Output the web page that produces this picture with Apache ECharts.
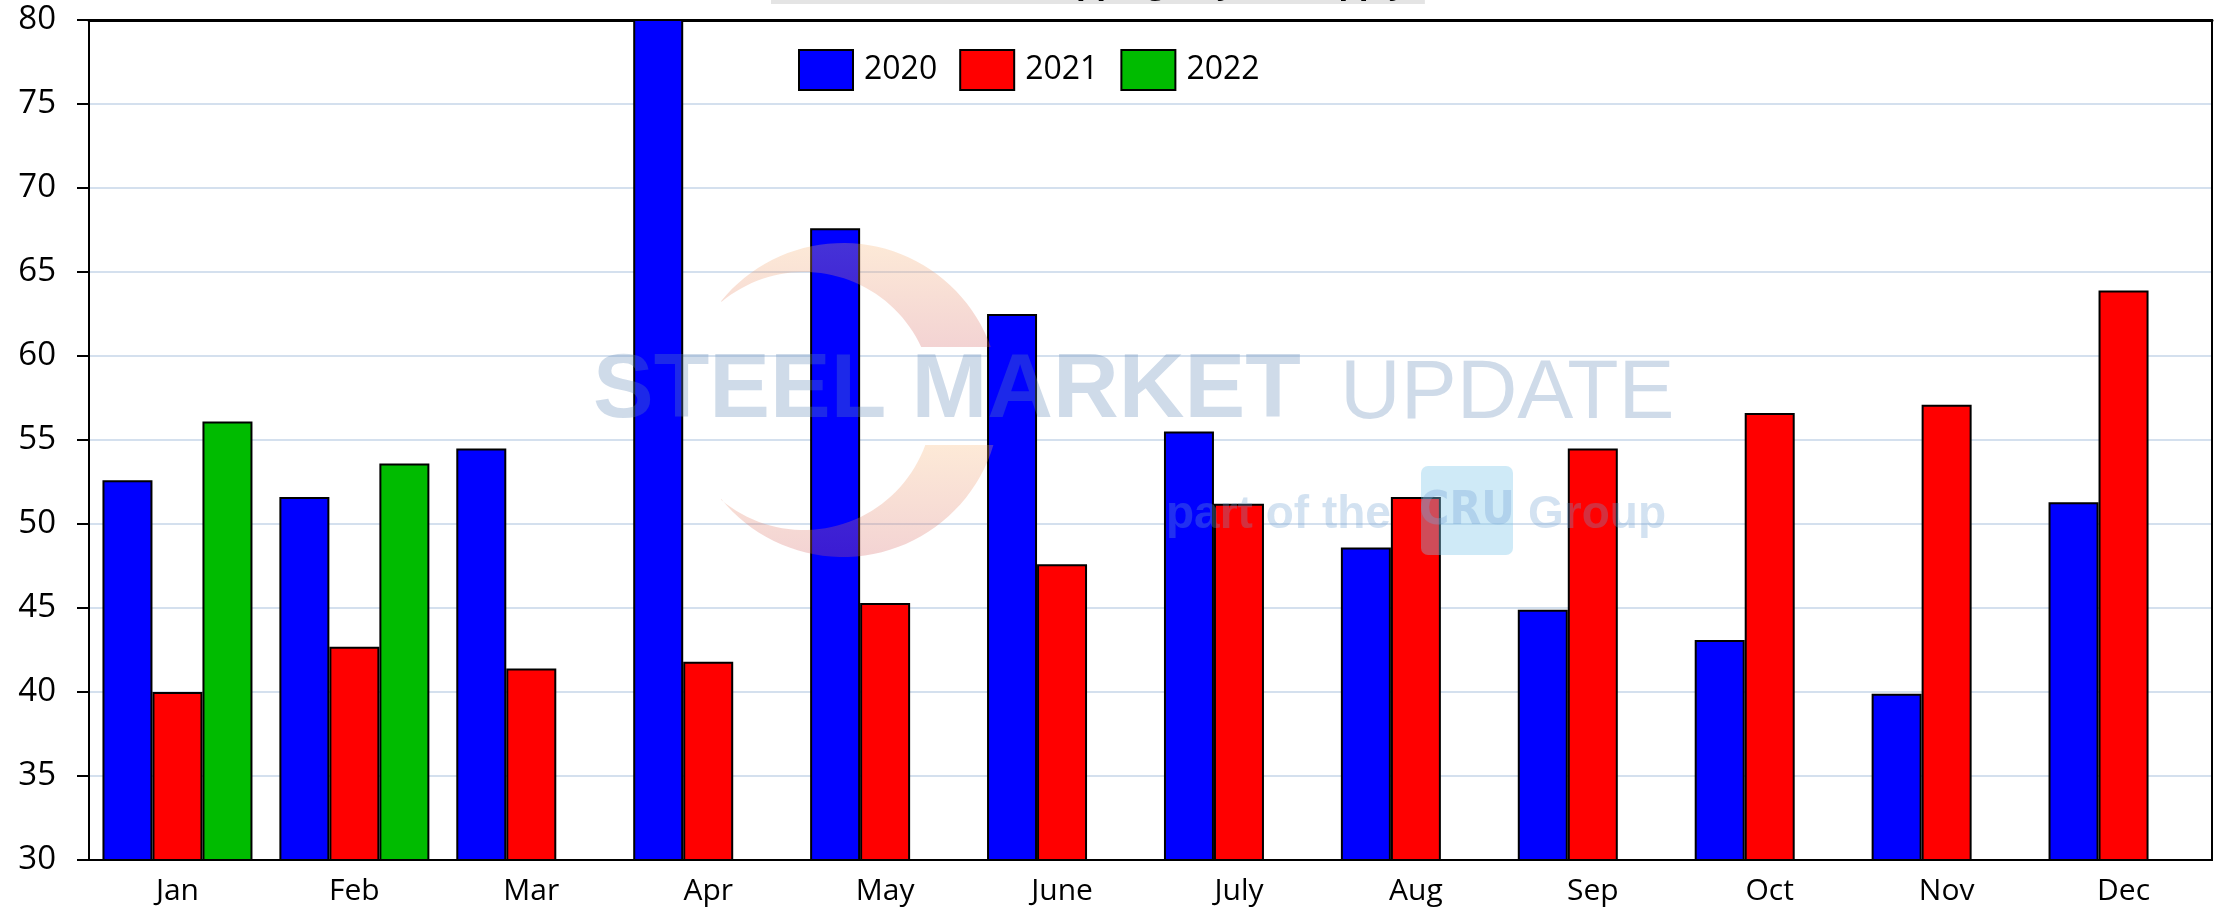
<!DOCTYPE html>
<html>
<head>
<meta charset="utf-8">
<script src="https://cdn.jsdelivr.net/npm/echarts@6/dist/echarts.min.js"></script>
<style>
html,body{margin:0;padding:0;background:#fff;}
#chart{width:2221px;height:909px;}
</style>
</head>
<body>
<div id="chart"></div>
<script>
const categories = ['Jan','Feb','Mar','Apr','May','June','July','Aug','Sep','Oct','Nov','Dec'];
const seriesNames = ['2020','2021','2022'];
const values2020 = [52.6, 51.6, 54.5, 82.0, 67.6, 62.5, 55.5, 48.6, 44.9, 43.1, 39.9, 51.3];
const values2021 = [40.0, 42.7, 41.4, 41.8, 45.3, 47.6, 51.2, 51.6, 54.5, 56.6, 57.1, 63.9];
const values2022 = [56.1, 53.6, null, null, null, null, null, null, null, null, null, null];
const seriesColors = ['#0000ff', '#ff0000', '#00bb00'];
const yMin = 30, yMax = 80, yStep = 5;
const titleText = 'Service Center Shipping Days of Supply';

const chart = echarts.init(document.getElementById('chart'), null, {renderer: 'canvas'});
const FONT = '"Open Sans", "Noto Sans", sans-serif';

function barSeries(name, data, color) {
  return {
    name: name,
    type: 'bar',
    data: data,
    barWidth: 50,
    barGap: '0%',
    itemStyle: {color: color, borderColor: '#000', borderWidth: 2},
    emphasis: {disabled: true},
    z: 2
  };
}

// watermark crescent pieces (decoration)
function arcPts(cx, cy, r, a0, a1, n) {
  const pts = [];
  for (let i = 0; i <= n; i++) {
    const a = (a0 + (a1 - a0) * i / n) * Math.PI / 180;
    pts.push([cx + r * Math.cos(a), cy + r * Math.sin(a)]);
  }
  return pts;
}
const crescentTop = arcPts(843, 400, 157, -141, -19.7, 40).concat(arcPts(804, 401, 129, -24.7, -129.7, 40));
const crescentBottom = arcPts(843, 400, 157, 16.7, 141, 40).concat(arcPts(804, 401, 129, 130, 19.9, 40));

const wmArc = new echarts.graphic.LinearGradient(0, 0, 0, 1, [
  {offset: 0, color: 'rgb(248,178,112)'}, {offset: 1, color: 'rgb(212,98,98)'}
]);

chart.setOption({
  backgroundColor: '#ffffff',
  animation: false,
  title: {
    text: titleText,
    left: 771,
    top: -36,
    backgroundColor: '#e4e4e4',
    padding: [4, 18, 4, 18],
    textStyle: {fontFamily: FONT, fontSize: 32, fontWeight: 'bold', color: '#000', lineHeight: 32}
  },
  legend: {
    data: seriesNames,
    left: 793,
    top: 44,
    itemWidth: 54,
    itemHeight: 40,
    itemGap: 22,
    icon: 'rect',
    itemStyle: {borderColor: '#000', borderWidth: 2},
    textStyle: {fontFamily: FONT, fontSize: 32, color: '#000', padding: [0, 0, 0, 6]}
  },
  grid: {
    left: 89, right: 9, top: 20, bottom: 49,
    containLabel: false,
    outerBoundsMode: 'none',
    show: true,
    borderColor: '#000',
    borderWidth: 2,
    backgroundColor: 'transparent'
  },
  xAxis: [{
    type: 'category',
    data: categories,
    axisLine: {show: true, lineStyle: {color: '#000', width: 2}},
    axisTick: {show: false},
    axisLabel: {fontFamily: FONT, fontSize: 30, color: '#000', margin: 16},
    splitLine: {show: false}
  }, {
    type: 'category',
    position: 'top',
    data: categories,
    axisLine: {show: true, lineStyle: {color: '#000', width: 3}},
    axisTick: {show: false},
    axisLabel: {show: false},
    splitLine: {show: false}
  }],
  yAxis: [{
    type: 'value',
    min: yMin, max: yMax, interval: yStep,
    axisLine: {show: true, lineStyle: {color: '#000', width: 2}},
    axisTick: {show: true, length: 12, lineStyle: {color: '#000', width: 2}},
    axisLabel: {fontFamily: FONT, fontSize: 33, color: '#000', margin: 33},
    splitLine: {show: true, lineStyle: {color: '#c6d6e8', width: 1.5}}
  }, {
    type: 'value',
    position: 'right',
    min: yMin, max: yMax, interval: yStep,
    axisLine: {show: true, lineStyle: {color: '#000', width: 2}},
    axisTick: {show: false},
    axisLabel: {show: false},
    splitLine: {show: false}
  }],
  series: [
    barSeries(seriesNames[0], values2020, seriesColors[0]),
    barSeries(seriesNames[1], values2021, seriesColors[1]),
    barSeries(seriesNames[2], values2022, seriesColors[2])
  ],
  graphic: [
    {type: 'polygon', silent: true, z: 100, shape: {points: crescentTop}, style: {fill: wmArc, opacity: 0.28}},
    {type: 'polygon', silent: true, z: 100, shape: {points: crescentBottom}, style: {fill: wmArc, opacity: 0.28}},
    {type: 'text', silent: true, z: 100, x: 593, y: 437,
     style: {text: 'STEEL MARKET', font: 'bold 91px "Liberation Sans", Arial, sans-serif', fill: 'rgb(95,135,182)', opacity: 0.3, verticalAlign: 'bottom'}},
    {type: 'text', silent: true, z: 100, x: 1340, y: 437,
     style: {text: 'UPDATE', font: '84px "Liberation Sans", Arial, sans-serif', fill: 'rgb(95,135,182)', opacity: 0.3, verticalAlign: 'bottom'}},
    {type: 'text', silent: true, z: 100, x: 1166, y: 538,
     style: {text: 'part of the', font: 'bold 46px "Liberation Sans", Arial, sans-serif', fill: 'rgb(110,160,210)', opacity: 0.3, verticalAlign: 'bottom'}},
    {type: 'rect', silent: true, z: 100, shape: {x: 1421, y: 466, width: 92, height: 89, r: 7},
     style: {fill: 'rgb(130,200,235)', opacity: 0.38}},
    {type: 'text', silent: true, z: 101, x: 1467, y: 512,
     style: {text: 'CRU', font: 'bold 46px "DejaVu Sans Condensed", "Liberation Sans Narrow", sans-serif', fill: 'rgb(120,165,215)', opacity: 0.35, align: 'center', verticalAlign: 'middle'}},
    {type: 'text', silent: true, z: 100, x: 1528, y: 538,
     style: {text: 'Group', font: 'bold 46px "Liberation Sans", Arial, sans-serif', fill: 'rgb(110,160,210)', opacity: 0.3, verticalAlign: 'bottom'}}
  ]
});
</script>
</body>
</html>
